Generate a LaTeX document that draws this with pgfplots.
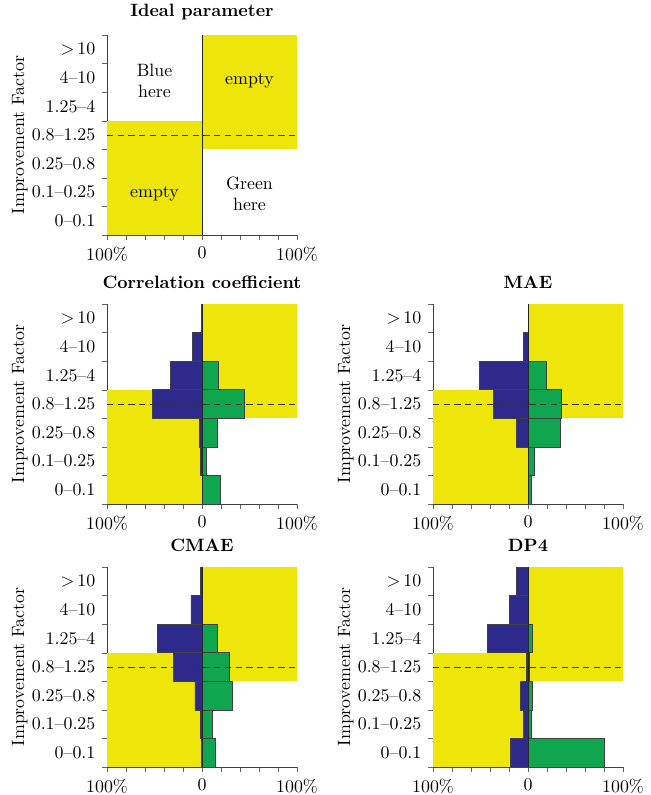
\documentclass[border=0pt]{standalone}
\usepackage{pgfplots}
\pgfplotsset{compat=1.18}
\definecolor{yel}{RGB}{238,230,10}
\definecolor{bbar}{RGB}{46,42,140}
\definecolor{gbar}{RGB}{16,166,80}
\pgfplotsset{
  panel/.style={
    scale only axis, width=106.4pt, height=112pt,
    xmin=-100, xmax=100, ymin=0, ymax=7,
    axis lines=left, axis line style={-, black!75},
    xtick={-100,0,100}, xticklabels={100\%,0,100\%},
    minor xtick={-80,-60,-40,-20,20,40,60,80},
    ytick={0.5,1.5,2.5,3.5,4.5,5.5,6.5},
    yticklabels={0--0.1,0.1--0.25,0.25--0.8,0.8--1.25,1.25--4,4--10,$>$\,10},
    minor ytick={0,1,2,3,4,5,6,7},
    major y tick style={draw=none},
    minor tick length=3pt,
    major tick length=3pt,
    tick style={black!60},
    tick align=outside,
    ylabel={Improvement Factor},
    ylabel style={yshift=-4.5pt},
    title style={font=\bfseries, yshift=-1pt},
    clip=false,
  },
  bl/.style={xbar, bar width=1, bar shift=0pt, fill=bbar, draw=black!75, line width=0.4pt},
  gr/.style={xbar, bar width=1, bar shift=0pt, fill=gbar, draw=black!75, line width=0.4pt},
}
\newcommand{\yellowbg}{%
  \addplot[fill=yel, draw=none] coordinates {(-100,0) (0,0) (0,4) (-100,4)} -- cycle;
  \addplot[fill=yel, draw=none] coordinates {(0,3) (100,3) (100,7) (0,7)} -- cycle;
}
\newcommand{\overlays}{%
  \addplot[black!85, line width=0.5pt] coordinates {(0,0) (0,7)};
  \addplot[black!80, dash pattern=on 3.5pt off 2.5pt, line width=0.5pt] coordinates {(-100,3.5) (100,3.5)};
}
\begin{document}
\begin{tikzpicture}
\path[use as bounding box] (0,0) rectangle (364.56pt,-445.2pt);

% Ideal parameter
\begin{axis}[panel, at={(59.92pt,-131.6pt)}, anchor=south west, title={Ideal parameter}]
\yellowbg
\overlays
\node[align=center] at (axis cs:-50,5.4) {Blue\\here};
\node[align=center] at (axis cs:50,5.4) {empty};
\node[align=center] at (axis cs:-50,1.45) {empty};
\node[align=center] at (axis cs:50,1.45) {Green\\here};
\end{axis}

% Correlation coefficient
\begin{axis}[panel, at={(59.92pt,-282.24pt)}, anchor=south west, title={Correlation coefficient}]
\yellowbg
\addplot[bl] coordinates {(-1,6.5) (-10,5.5) (-33,4.5) (-52,3.5) (-2.5,2.5) (-2,1.5) (0,0.5)};
\addplot[gr] coordinates {(0,6.5) (0,5.5) (17.5,4.5) (45,3.5) (16,2.5) (5,1.5) (19,0.5)};
\overlays
\end{axis}

% MAE
\begin{axis}[panel, at={(242.48pt,-282.24pt)}, anchor=south west, title={MAE}]
\yellowbg
\addplot[bl] coordinates {(0,6.5) (-5,5.5) (-51.5,4.5) (-36,3.5) (-12.6,2.5) (0,1.5) (0,0.5)};
\addplot[gr] coordinates {(0,6.5) (0,5.5) (19.6,4.5) (35,3.5) (33.7,2.5) (6.7,1.5) (4,0.5)};
\overlays
\end{axis}

% CMAE
\begin{axis}[panel, at={(59.92pt,-429.52pt)}, anchor=south west, title={CMAE}]
\yellowbg
\addplot[bl] coordinates {(-1.5,6.5) (-11.6,5.5) (-47,4.5) (-30.5,3.5) (-7.4,2.5) (-2,1.5) (-1,0.5)};
\addplot[gr] coordinates {(0,6.5) (0,5.5) (16.5,4.5) (29,3.5) (31.6,2.5) (10.5,1.5) (14,0.5)};
\overlays
\end{axis}

% DP4
\begin{axis}[panel, at={(242.48pt,-429.52pt)}, anchor=south west, title={DP4}]
\yellowbg
\addplot[bl] coordinates {(-12,6.5) (-19.6,5.5) (-42.7,4.5) (-1.4,3.5) (-8,2.5) (-4.5,1.5) (-18.6,0.5)};
\addplot[gr] coordinates {(0,6.5) (0,5.5) (5,4.5) (1,3.5) (5,2.5) (3.5,1.5) (80,0.5)};
\overlays
\end{axis}
\end{tikzpicture}
\end{document}
